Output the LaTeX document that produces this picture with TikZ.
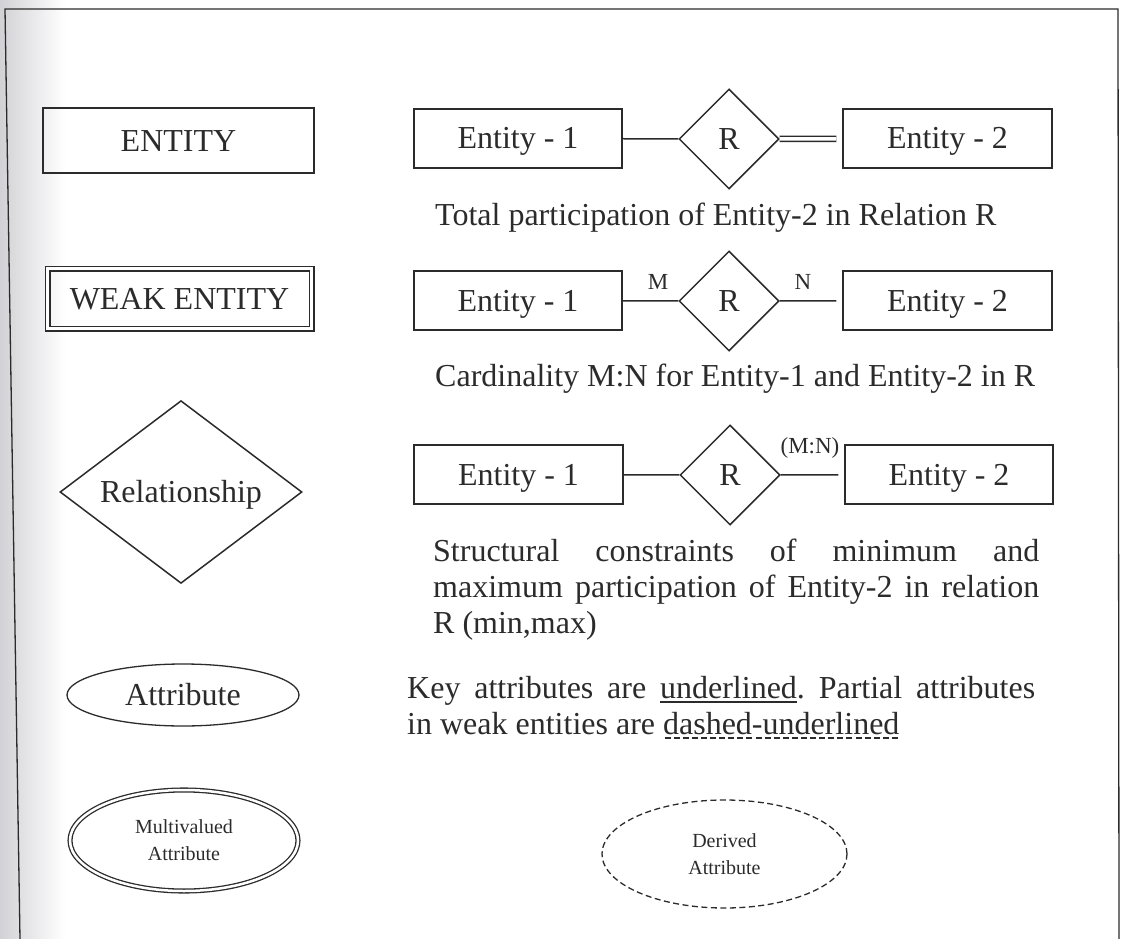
\documentclass[tikz,border=0pt]{standalone}
\usepackage{fontspec}
\setmainfont{Liberation Serif}
\usetikzlibrary{shapes.geometric}
\definecolor{erink}{HTML}{2B2B2B}
\definecolor{erscan}{HTML}{D2D2D6}

\newcommand{\bigtxt}{\fontsize{32}{36}\selectfont\frenchspacing}
\newcommand{\smalltxt}{\fontsize{20}{27}\selectfont}
\newcommand{\cardtxt}{\fontsize{23}{27}\selectfont}

%% 實線與虛線底線
\newcommand{\solidul}[1]{\setbox0\hbox{#1}%
  \rlap{\lower4.5pt\hbox{\vrule width \wd0 height 1.3pt}}\box0}
\newcommand{\dashul}[1]{\setbox0\hbox{#1}%
  \rlap{\lower4.5pt\hbox to \wd0{\xleaders\hbox to 9pt{\hss\vrule width 6pt height 1.2pt\hss}\hfill}}\box0}

\begin{document}
\begin{tikzpicture}[x=1pt, y=-1pt,
                    every node/.style={erink, font=\bigtxt},
                    capmid/.style={text height=21pt, text depth=0pt},
                    ent/.style={draw=erink, line width=1.5pt, rectangle, inner sep=0pt, capmid},
                    weakent/.style={ent, double, double distance=3pt},
                    rel/.style={draw=erink, line width=1.5pt, diamond, inner sep=0pt, capmid},
                    attr/.style={draw=erink, line width=1.3pt, ellipse, inner sep=0pt},
                    multiattr/.style={attr, double, double distance=2.5pt,
                                      align=center, font=\smalltxt},
                    derattr/.style={attr, dash pattern=on 6pt off 3.5pt,
                                    align=center, font=\smalltxt},
                    conn/.style={draw=erink, line width=1.5pt},
                    card/.style={erink, font=\cardtxt, inner sep=1pt},
                    note/.style={anchor=base west, inner sep=0pt}]

  \useasboundingbox (0,0) rectangle (1127,939);

  %% 掃描頁左側的灰影
  \shade[left color=erscan, right color=white] (0,0) rectangle (65,939);

  %% 外框（下緣未封）
  \draw[erink, line width=1.3pt] (20,939) -- (5,9) -- (1118,9) -- (1119,939);

  %% 左欄：各符號
  \node[ent, minimum width=271, minimum height=65] (entity) at (178.5,140.5) {ENTITY};
  \node[weakent, minimum width=264, minimum height=60] (weak) at (179.5,298.5) {WEAK ENTITY};
  \node[rel, minimum width=242, minimum height=128] (relship) at (181,492) {Relationship};
  \node[attr, capmid, minimum width=232, minimum height=62] (attrib) at (183,695) {Attribute};
  \node[multiattr, minimum width=228, minimum height=101] (multi) at (184,840.5)
    {Multivalued\\Attribute};

  %% 第一列：完全參與
  \node[ent, minimum width=208, minimum height=59] (ea1) at (518,138.5) {Entity - 1};
  \node[rel, minimum width=100, minimum height=100] (ra) at (729,139) {R};
  \node[ent, minimum width=209, minimum height=59] (eb1) at (947.5,138.5) {Entity - 2};
  \draw[conn] (ea1) -- (ra);
  \draw[conn, double, double distance=3.5pt, shorten >=6pt] (ra) -- (eb1);
  \node[note] (total) at (435,225) {Total participation of Entity-2 in Relation R};

  %% 第二列：基數 M:N
  \node[ent, minimum width=208, minimum height=59] (ea2) at (518,300.5) {Entity - 1};
  \node[rel, minimum width=100, minimum height=100] (rb) at (729,301) {R};
  \node[ent, minimum width=209, minimum height=59] (eb2) at (947.5,300.5) {Entity - 2};
  \draw[conn] (ea2) -- (rb);
  \draw[conn, shorten >=6pt] (rb) -- (eb2);
  \node[card] (cm) at (658,282) {M};
  \node[card] (cn) at (803,282) {N};
  \node[note] (cardin) at (435,386) {Cardinality M:N for Entity-1 and Entity-2 in R};

  %% 第三列：結構限制 (min,max)
  \node[ent, minimum width=209, minimum height=59] (ea3) at (518.5,474.5) {Entity - 1};
  \node[rel, minimum width=100, minimum height=100] (rc) at (730,475) {R};
  \node[ent, minimum width=208, minimum height=59] (eb3) at (949,474.5) {Entity - 2};
  \draw[conn] (ea3) -- (rc);
  \draw[conn, shorten >=6pt] (rc) -- (eb3);
  \node[card] (cmn) at (810,448) {(M:N)};
  \node[note] (struct) at (433,561)
    {\begin{tabular}[t]{@{}l@{}}
       \makebox[606pt][s]{Structural constraints of minimum and}\\
       \makebox[606pt][s]{maximum participation of Entity-2 in relation}\\
       R (min,max)
     \end{tabular}};

  %% 鍵屬性與部分鍵的說明
  \node[note] (keynote) at (407,698)
    {\begin{tabular}[t]{@{}l@{}}
       \makebox[628pt][s]{Key attributes are \solidul{underlined}. Partial attributes}\\
       in weak entities are \dashul{dashed-underlined}
     \end{tabular}};

  %% 衍生屬性
  \node[derattr, minimum width=245, minimum height=108] (derived) at (724.5,854)
    {Derived\\Attribute};

\end{tikzpicture}
\end{document}
